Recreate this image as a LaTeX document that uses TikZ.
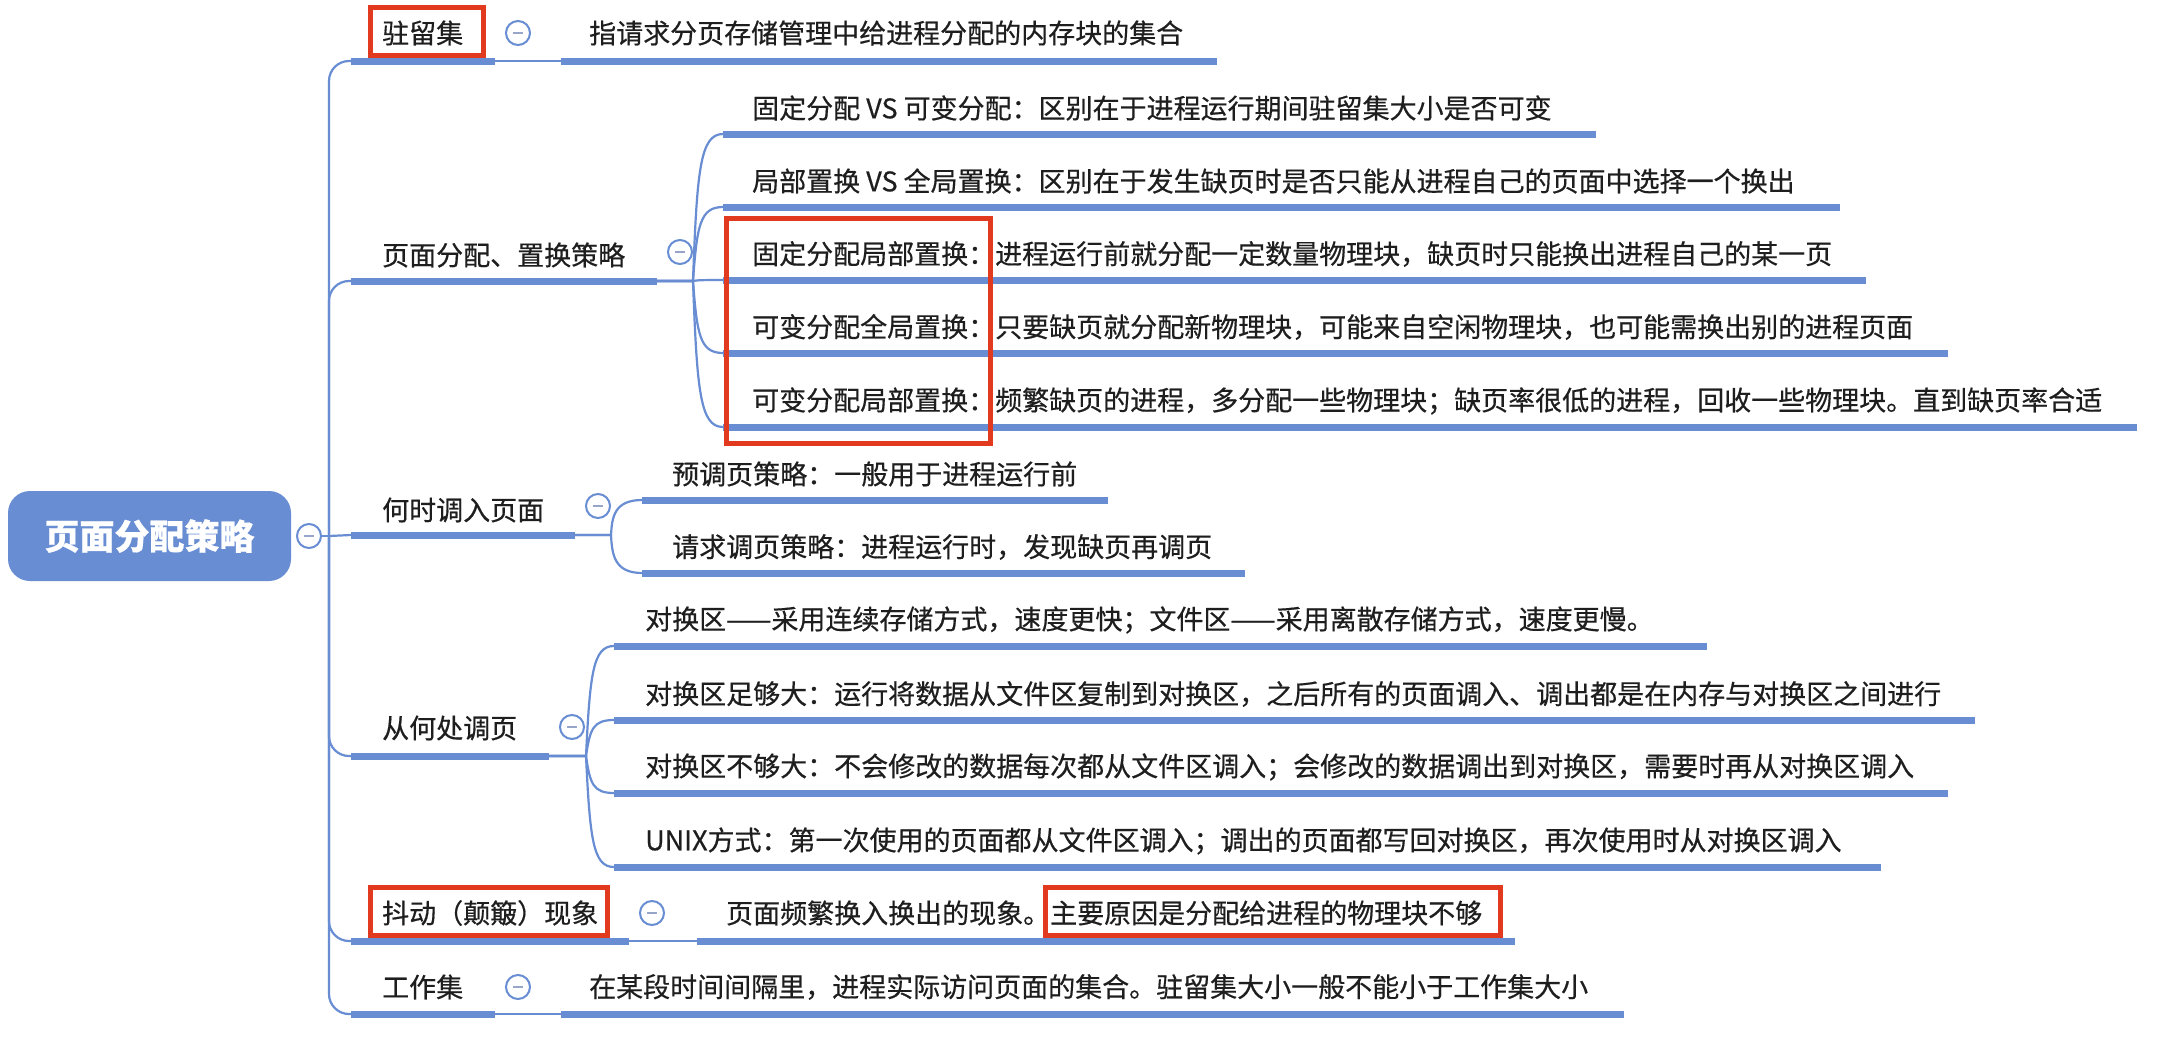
\documentclass[tikz,border=0pt]{standalone}
\usepackage{fontspec}
\setmainfont{Noto Sans CJK SC}[FakeBold=0.5]
\definecolor{bl}{RGB}{104,141,211}
\definecolor{rd}{RGB}{226,58,30}
\definecolor{tx}{RGB}{30,30,30}
\definecolor{mn}{RGB}{150,165,200}
\begin{document}
\begin{tikzpicture}[x=1pt,y=-1pt,
  uline/.style={draw=bl,line width=7pt},
  conn/.style={draw=bl,line width=2.2pt},
  lbl/.style={anchor=west,inner sep=0pt,text=tx,font=\fontsize{27pt}{32pt}\selectfont},
  coll/.style={circle,draw=bl,line width=2pt,minimum size=24pt,inner sep=0pt,fill=white},
  minus/.style={draw=mn,line width=2.5pt},
  redbox/.style={draw=rd,line width=5pt},
  rootbox/.style={rectangle,rounded corners=22pt,fill=bl,text=white,minimum width=283pt,minimum height=90pt,inner sep=0pt,font=\fontsize{35pt}{40pt}\selectfont\bfseries}]
\useasboundingbox (0,0) rectangle (2171,1047);
\fill[white] (0,0) rectangle (2171,1047);

% root
\node[rootbox] (root) at (149.5,536) {页面分配策略};
\node[coll] (rc) at (309,536) {};
\draw[minus] ([xshift=-5pt]rc.center) -- ([xshift=5pt]rc.center);
\coordinate (sp) at (329,536);
\draw[conn] (rc.east) -- (sp);

% topic underline coordinates
\coordinate (t1s) at (351,61);   \coordinate (t1e) at (495,61);
\coordinate (t2s) at (351,281);  \coordinate (t2e) at (657,281);
\coordinate (t3s) at (351,535);  \coordinate (t3e) at (575,535);
\coordinate (t4s) at (351,756);  \coordinate (t4e) at (549,756);
\coordinate (t5s) at (351,941);  \coordinate (t5e) at (629,941);
\coordinate (t6s) at (351,1014); \coordinate (t6e) at (495,1014);

% spine branches
\foreach \k in {1,2,4,5,6} {\draw[conn,rounded corners=20pt] (sp) |- (t\k s);}
\draw[conn] (sp) -- (t3s);

% topic underlines and labels
\foreach \k in {1,...,6} {\draw[uline] (t\k s) -- (t\k e);}
\node[lbl] (n1) at (382,33) {驻留集};
\node[lbl] (n2) at (382,255) {页面分配、置换策略};
\node[lbl] (n3) at (382,510) {何时调入页面};
\node[lbl] (n4) at (382,728) {从何处调页};
\node[lbl] (n5) at (382,913) {抖动（颠簸）现象};
\node[lbl] (n6) at (382,987) {工作集};

% collapse circles
\foreach \k/\x/\y in {1/518/33,2/680/252,3/598/506,4/572/727,5/652/913,6/518/987} {
  \node[coll] (k\k) at (\x,\y) {};
  \draw[minus] ([xshift=-5pt]k\k.center) -- ([xshift=5pt]k\k.center);
}

% single details
\coordinate (d1s) at (561,61);  \coordinate (d1e) at (1217,61);
\draw[conn] (t1e) -- (d1s); \draw[uline] (d1s) -- (d1e);
\node[lbl] (m1) at (589,33) {指请求分页存储管理中给进程分配的内存块的集合};

\coordinate (d5s) at (697,941); \coordinate (d5e) at (1515,941);
\draw[conn] (t5e) -- (d5s); \draw[uline] (d5s) -- (d5e);
\node[lbl] (m5) at (726,913) {页面频繁换入换出的现象。主要原因是分配给进程的物理块不够};

\coordinate (d6s) at (561,1014); \coordinate (d6e) at (1624,1014);
\draw[conn] (t6e) -- (d6s); \draw[uline] (d6s) -- (d6e);
\node[lbl] (m6) at (589,987) {在某段时间间隔里，进程实际访问页面的集合。驻留集大小一般不能小于工作集大小};

% children of topic 2
\foreach \i/\y/\e/\t in {
  1/134/1596/{固定分配 VS 可变分配：区别在于进程运行期间驻留集大小是否可变},
  2/207/1840/{局部置换 VS 全局置换：区别在于发生缺页时是否只能从进程自己的页面中选择一个换出},
  3/280/1866/{固定分配局部置换：进程运行前就分配一定数量物理块，缺页时只能换出进程自己的某一页},
  4/353/1948/{可变分配全局置换：只要缺页就分配新物理块，可能来自空闲物理块，也可能需换出别的进程页面},
  5/427/2137/{可变分配局部置换：频繁缺页的进程，多分配一些物理块；缺页率很低的进程，回收一些物理块。直到缺页率合适}} {
  \coordinate (a\i s) at (723,\y); \coordinate (a\i e) at (\e,\y);
  \draw[conn] (t2e) -- (693,281) .. controls (697,{\y+0.25*(281-\y)}) and (700,\y) .. (a\i s);
  \draw[uline] (a\i s) -- (a\i e);
  \node[lbl] (p\i) at (752,\y-26) {\t};
}

% children of topic 3
\foreach \i/\y/\e/\t in {
  1/500/1108/{预调页策略：一般用于进程运行前},
  2/573/1245/{请求调页策略：进程运行时，发现缺页再调页}} {
  \coordinate (b\i s) at (642,\y); \coordinate (b\i e) at (\e,\y);
  \draw[conn] (t3e) -- (611,535) .. controls (612,{\y+0.5*(535-\y)}) and (614,\y) .. (b\i s);
  \draw[uline] (b\i s) -- (b\i e);
  \node[lbl] (q\i) at (672,\y-26) {\t};
}

% children of topic 4
\foreach \i/\y/\e/\t in {
  1/646/1707/{对换区——采用连续存储方式，速度更快；文件区——采用离散存储方式，速度更慢。},
  2/720/1975/{对换区足够大：运行将数据从文件区复制到对换区，之后所有的页面调入、调出都是在内存与对换区之间进行},
  3/793/1948/{对换区不够大：不会修改的数据每次都从文件区调入；会修改的数据调出到对换区，需要时再从对换区调入},
  4/867/1881/{UNIX方式：第一次使用的页面都从文件区调入；调出的页面都写回对换区，再次使用时从对换区调入}} {
  \coordinate (c\i s) at (614,\y); \coordinate (c\i e) at (\e,\y);
  \draw[conn] (t4e) -- (586,756) .. controls (590,{\y+0.25*(756-\y)}) and (593,\y) .. (c\i s);
  \draw[uline] (c\i s) -- (c\i e);
  \node[lbl] (r\i) at (645,\y-26) {\t};
}

% red highlight boxes
\draw[redbox] (370,7) rectangle (483,55);
\draw[redbox] (726,218) rectangle (990,443);
\draw[redbox] (370,887) rectangle (607,935);
\draw[redbox] (1045,887) rectangle (1500,935);
\end{tikzpicture}
\end{document}
